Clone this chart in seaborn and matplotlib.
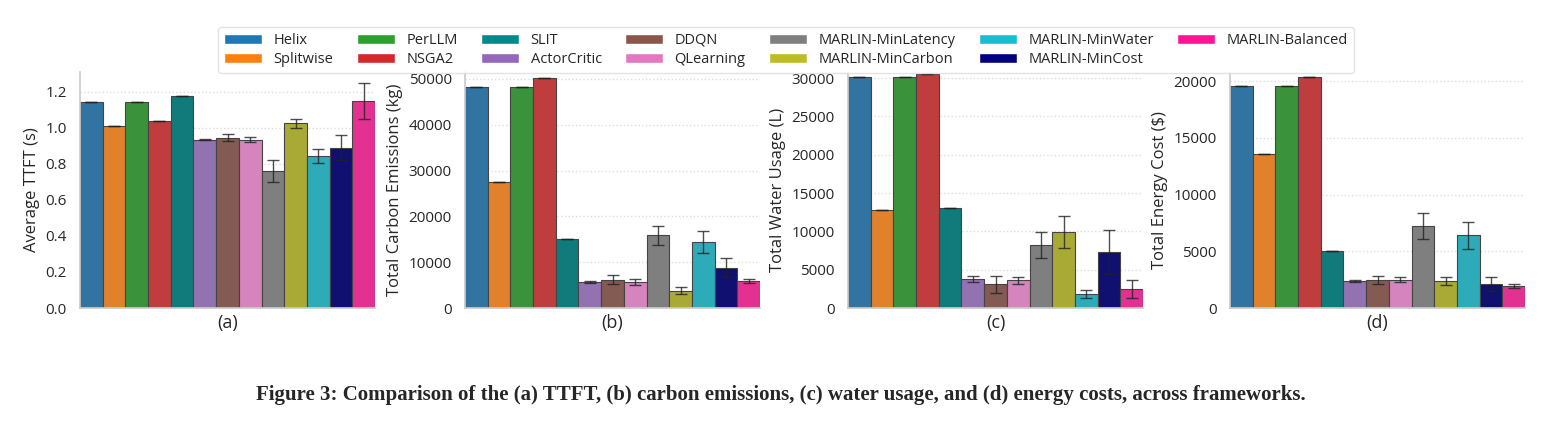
import matplotlib
matplotlib.use("Agg")
import matplotlib.pyplot as plt
import seaborn as sns
from matplotlib.patches import Patch

methods = ["Helix", "Splitwise", "PerLLM", "NSGA2", "SLIT", "ActorCritic", "DDQN", "QLearning",
           "MARLIN-MinLatency", "MARLIN-MinCarbon", "MARLIN-MinWater", "MARLIN-MinCost", "MARLIN-Balanced"]
colors = ["#1f77b4", "#ff7f0e", "#2ca02c", "#d62728", "#008b8b", "#9467bd", "#8c564b", "#e377c2",
          "#7f7f7f", "#bcbd22", "#17becf", "#000080", "#ff1493"]

ttft = [1.145, 1.01, 1.145, 1.04, 1.175, 0.935, 0.945, 0.935, 0.76, 1.025, 0.845, 0.89, 1.15]
ttft_err = [0, 0, 0, 0, 0, 0.005, 0.02, 0.015, 0.06, 0.025, 0.04, 0.07, 0.1]
carbon = [48200, 27500, 48200, 50200, 15000, 5700, 6200, 5700, 15900, 3800, 14400, 8800, 5900]
carbon_err = [0, 0, 0, 0, 0, 300, 1000, 600, 2100, 800, 2500, 2100, 400]
water = [30100, 12800, 30100, 30500, 13100, 3800, 3100, 3600, 8200, 9900, 1800, 7300, 2500]
water_err = [0, 0, 0, 0, 0, 400, 1100, 500, 1700, 2100, 500, 2900, 1200]
energy = [19600, 13600, 19600, 20400, 5000, 2400, 2500, 2500, 7200, 2400, 6400, 2100, 1950]
energy_err = [0, 0, 0, 0, 0, 100, 350, 250, 1150, 350, 1200, 600, 200]

panels = [
    (ttft, ttft_err, "Average TTFT (s)", "(a)", (0, 1.31), [0, 0.2, 0.4, 0.6, 0.8, 1.0, 1.2], "{:.1f}"),
    (carbon, carbon_err, "Total Carbon Emissions (kg)", "(b)", (0, 51500), [0, 10000, 20000, 30000, 40000, 50000], "{:.0f}"),
    (water, water_err, "Total Water Usage (L)", "(c)", (0, 30800), [0, 5000, 10000, 15000, 20000, 25000, 30000], "{:.0f}"),
    (energy, energy_err, "Total Energy Cost ($)", "(d)", (0, 20800), [0, 5000, 10000, 15000, 20000], "{:.0f}"),
]

sns.set_theme(style="white")
plt.rcParams["font.family"] = ["Open Sans", "DejaVu Sans"]

fig = plt.figure(figsize=(15.62, 4.29), dpi=100)
lefts = [80, 465, 848, 1230]
for left, (vals, errs, ylabel, xlabel, ylim, ticks, fmt) in zip(lefts, panels):
    ax = fig.add_axes([left / 1562, 121 / 429, 295 / 1562, 236 / 429])
    sns.barplot(x=methods, y=vals, hue=methods, palette=colors, width=1.0, errorbar=None,
                edgecolor="#444444", linewidth=0.8, legend=False, ax=ax)
    ax.errorbar(range(len(methods)), vals, yerr=errs, fmt="none", ecolor="#222222",
                elinewidth=1, capsize=4, alpha=0.8)
    ax.set_ylim(*ylim)
    ax.set_xlim(-0.5, len(methods) - 0.5)
    ax.set_yticks(ticks)
    ax.set_yticklabels([fmt.format(t) for t in ticks], fontsize=11)
    ax.set_xticks([])
    ax.set_ylabel(ylabel, fontsize=12)
    ax.set_xlabel(xlabel, fontsize=13)
    ax.yaxis.grid(True, linestyle=":", color="#dddddd")
    ax.set_axisbelow(True)
    for s in ["top", "right"]:
        ax.spines[s].set_visible(False)
    for s in ["left", "bottom"]:
        ax.spines[s].set_color("#cccccc")

handles = [Patch(facecolor=c, label=m) for m, c in zip(methods, colors)]
fig.legend(handles=handles, loc="center", bbox_to_anchor=(786 / 1562, 1 - 50 / 429), ncol=7,
           fontsize=10.5, frameon=True, edgecolor="#dddddd", handlelength=2.6, columnspacing=1.6,
           borderpad=0.4, labelspacing=0.3)

fig.text(0.5, 1 - 395 / 429,
         "Figure 3: Comparison of the (a) TTFT, (b) carbon emissions, (c) water usage, and (d) energy costs, across frameworks.",
         ha="center", va="center", fontsize=15, fontweight="bold", family=["Liberation Serif", "DejaVu Serif"])

fig.savefig("out.png", dpi=100)
